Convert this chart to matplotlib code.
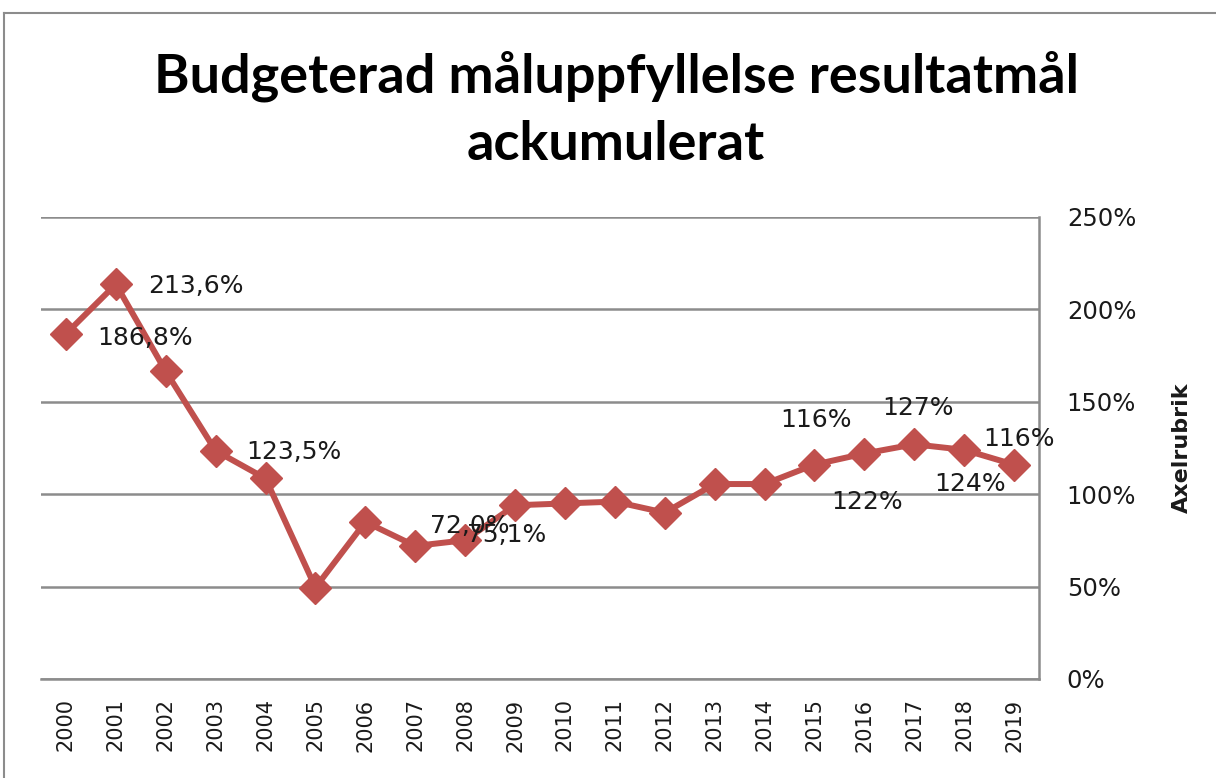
import matplotlib
matplotlib.use("Agg")
import matplotlib.pyplot as plt
from matplotlib.lines import Line2D
from matplotlib.ticker import FuncFormatter, MultipleLocator

W, H = 1216, 778

years = [str(y) for y in range(2000, 2020)]
values = [186.8, 213.6, 166.5, 123.5, 108.5, 49.5, 85.0, 72.0, 75.1, 94.0,
          95.0, 96.0, 90.0, 105.5, 105.5, 116.0, 122.0, 127.0, 124.0, 116.0]
labels = {0: "186,8%", 1: "213,6%", 3: "123,5%", 7: "72,0%", 8: "75,1%",
          15: "116%", 16: "122%", 17: "127%", 18: "124%", 19: "116%"}
title_lines = ["Budgeterad måluppfyllelse resultatmål", "ackumulerat"]
axis_title = "Axelrubrik"

RED = "#C0504D"
GRID = "#8C8C8C"

fig = plt.figure(figsize=(W / 100, H / 100), dpi=100)
ax = fig.add_axes([41 / W, (H - 679) / H, (1039 - 41) / W, (679 - 217) / H])

x = list(range(len(years)))
ax.plot(x, values, color=RED, lw=4.3, marker="D", ms=16.5, mec=RED, mfc=RED,
        solid_joinstyle="miter", zorder=3)

# label offsets in pixels (dx, dy; dy positive = up), with alignment
place = {0: (31, -4, "left"), 1: (32, -2, "left"), 3: (31, -1, "left"),
         7: (15, 20, "left"), 8: (2, 5, "left"),
         15: (2, 45, "center"), 16: (3, -48, "center"), 17: (4, 36, "center"),
         18: (6, -34, "center"), 19: (5, 26, "center")}
for i, txt in labels.items():
    dx, dy, ha = place[i]
    ax.annotate(txt, (x[i], values[i]), xytext=(dx * 0.72, dy * 0.72),
                textcoords="offset points", ha=ha, va="center",
                fontsize=18, color="#1a1a1a", zorder=4,
                family="DejaVu Sans")

ax.set_xlim(-0.5, len(years) - 0.5)
ax.set_ylim(0, 250)
ax.yaxis.set_major_locator(MultipleLocator(50))
ax.yaxis.set_major_formatter(FuncFormatter(lambda v, _: f"{v:.0f}%"))
ax.yaxis.tick_right()
ax.yaxis.grid(True, color=GRID, lw=1.8)
ax.set_axisbelow(True)
ax.set_xticks(x)
ax.set_xticklabels(years, rotation=90, fontsize=15, color="#1a1a1a")
ax.tick_params(axis="x", length=0, pad=14)
ax.tick_params(axis="y", length=0, pad=20, labelsize=17.5, labelcolor="#1a1a1a")
for lbl in ax.get_yticklabels():
    lbl.set_horizontalalignment("left")

for s in ("top", "left"):
    ax.spines[s].set_visible(False)
ax.spines["right"].set_color(GRID)
ax.spines["right"].set_linewidth(1.8)
ax.spines["bottom"].set_color(GRID)
ax.spines["bottom"].set_linewidth(1.8)

ax.yaxis.set_label_position("right")
ax.set_ylabel(axis_title, fontsize=16, fontweight="bold", rotation=90,
              family="DejaVu Sans", color="#1a1a1a")
ax.yaxis.set_label_coords((1172 - 41) / (1039 - 41), 0.5)

fig.text(616 / W, 1 - 92 / H, title_lines[0], ha="center", va="baseline",
         fontsize=39, fontweight="bold", family="Lato")
fig.text(616 / W, 1 - 160 / H, title_lines[1], ha="center", va="baseline",
         fontsize=39, fontweight="bold", family="Lato")

# chart frame
fig.add_artist(Line2D([4 / W, 1], [1 - 13 / H, 1 - 13 / H], color=GRID, lw=1.5))
fig.add_artist(Line2D([4 / W, 4 / W], [0, 1 - 13 / H], color=GRID, lw=1.5))

fig.savefig("out.png", dpi=100)
